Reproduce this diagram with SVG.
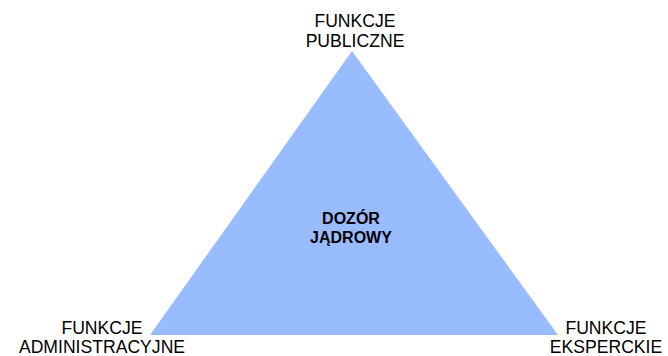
<svg xmlns="http://www.w3.org/2000/svg" width="668" height="356" viewBox="0 0 668 356">
<style>
.lbl{font-family:"Liberation Sans",Arial,sans-serif;font-size:17.6px;fill:#000;text-anchor:middle}
.ctr{font-family:"Liberation Sans",Arial,sans-serif;font-size:16px;font-weight:bold;fill:#000;text-anchor:middle}
.tri{fill:#99bbff;stroke:none}
</style>
<rect width="668" height="356" fill="#fff"/>
<g id="triangle">
<polygon class="tri" points="352,51 150,335 558,335"/>
<text class="ctr" x="351" y="224">DOZÓR</text>
<text class="ctr" x="351" y="243">JĄDROWY</text>
</g>
<g id="top">
<text class="lbl" x="355" y="27.3">FUNKCJE</text>
<text class="lbl" x="355" y="47">PUBLICZNE</text>
</g>
<g id="left">
<text class="lbl" x="102" y="333.6">FUNKCJE</text>
<text class="lbl" x="102" y="353.3">ADMINISTRACYJNE</text>
</g>
<g id="right">
<text class="lbl" x="606" y="333.6">FUNKCJE</text>
<text class="lbl" x="606" y="353.3">EKSPERCKIE</text>
</g>
</svg>
